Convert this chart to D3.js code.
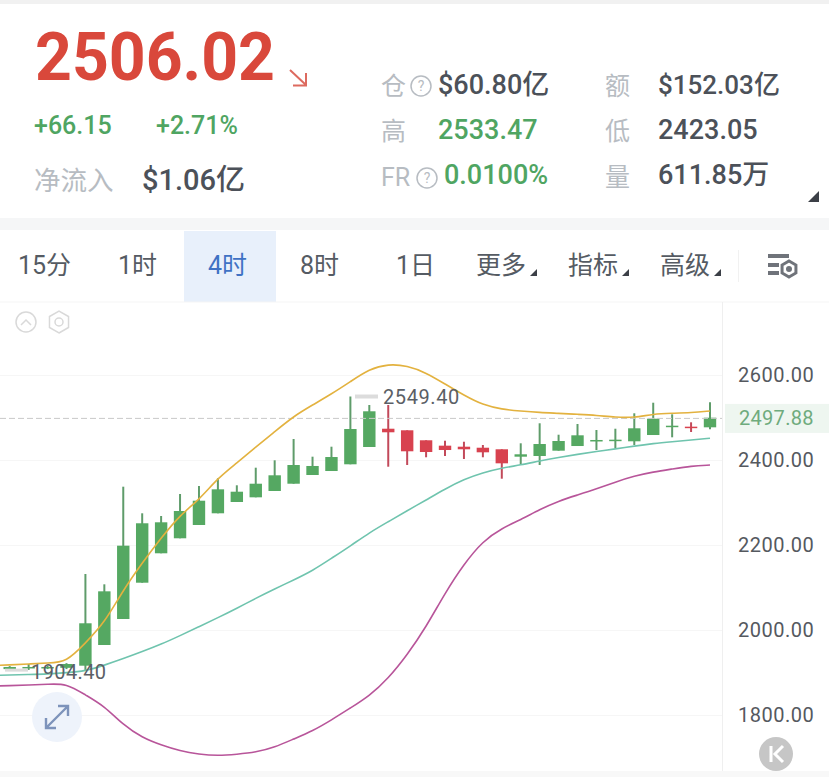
<!DOCTYPE html>
<html><head><meta charset="utf-8">
<script src="https://cdn.jsdelivr.net/npm/d3@7/dist/d3.min.js"></script>
<style>html,body{margin:0;padding:0;background:#fff;overflow:hidden}svg{display:block}
text{font-family:Roboto,"Noto Sans CJK SC",sans-serif}</style></head><body>
<svg id="c" width="829" height="777"></svg>
<script>
const opens=[1908,1911,1911,1911,1916,1964.7,2025.9,2111.3,2180.5,2215.8,2247.1,2274.6,2301.2,2312.2,2327.1,2344.2,2364.7,2374.1,2389.9,2430.6,2473.6,2469.9,2446.4,2433.7,2431.3,2428.9,2425.2,2407.8,2409.4,2421.9,2432.9,2444.7,2445.4,2444,2458.8,2477.6,2478.4,2476.9];
const closes=[1913,1913,1913,1920,2015.8,2091,2198.4,2251.1,2253.4,2280,2304.2,2331,2325.4,2344.2,2364,2388.2,2385.9,2407,2472.9,2514.6,2465.2,2420.5,2418.8,2423.5,2425.2,2418.1,2392.2,2413.4,2437.6,2444.7,2458.1,2447.1,2447.8,2474.6,2497.2,2480.7,2475.3,2499.5];
const highs=[1915,1920,1916,1922,2131.8,2107.5,2337.2,2274.6,2268.2,2320,2338.8,2357,2340.5,2381.9,2399.3,2449.4,2407.8,2431.3,2549.4,2529.4,2529.4,2469.9,2446.4,2445.4,2443,2435.3,2425.2,2439.3,2486.4,2459.5,2484.7,2470.6,2473.6,2509.9,2534.8,2507.5,2488.7,2535.8];
const lows=[1907,1906,1908,1908,1904.4,1964.7,2025.9,2111.3,2180.5,2215.8,2247.1,2274.6,2301.2,2312.2,2327.1,2344.2,2364.7,2374.1,2389.9,2430.6,2384.2,2388.2,2406.4,2409.4,2402.4,2406.4,2356,2388.2,2388.2,2421.9,2432.9,2423.5,2427.5,2435.3,2458.8,2453.4,2465.9,2472.2];
// bands start one period before the first visible candle
const upperBand=[1916.5,1917.7,1920,1922.4,1924,1969.4,2016.5,2094.1,2157.7,2216.5,2270.6,2305.9,2357.6,2392.9,2430.6,2466.6,2502.8,2529.4,2555.3,2584.2,2614.1,2625.9,2621.9,2605.4,2578.8,2552.2,2529.4,2519.3,2515.3,2511.8,2509.9,2507.5,2505.2,2500.5,2499.5,2508.2,2509.9,2511.3,2515.3];
const middleBand=[1893,1894.1,1895.3,1896.5,1899.5,1903.5,1917,1932.5,1949,1966.4,1986.6,2007.8,2029,2051.1,2074.6,2096.5,2117.7,2139.5,2168.7,2197.7,2229,2254.8,2280.7,2305.9,2331.8,2354.6,2370.1,2381.2,2388.2,2397.7,2405.9,2413.4,2420,2425.9,2432.9,2438.8,2443.1,2447.1,2451.1];
const lowerBand=[1868.2,1869,1870.6,1872.2,1874.6,1847.1,1821.2,1776.5,1746.6,1729.4,1715.3,1707.6,1704.3,1707.6,1712.2,1724,1743.5,1762.4,1788.2,1816.5,1844.7,1885.9,1941.2,2007.1,2087.1,2155.3,2209.4,2239.3,2259.5,2283.5,2303.5,2317.6,2331.8,2348.2,2362.4,2371.8,2378.8,2385.9,2388.2];
const priceTicks=[1800,2000,2200,2400,2600];
const lastPrice=2497.88, maxHigh=2549.40, minLow=1904.40;
const tabs=["15分","1时","4时","8时","1日","更多","指标","高级"];

const svg=d3.select("#c");
const x=d3.scaleLinear().domain([0,37]).range([9.7,710]);
const y=d3.scaleLinear().domain([1800,2600]).range([715,375]);
const GREEN="#54a862",RED="#d8434f",HEAD_GREEN="#4fa562",DARK="#4c5159",LIGHT="#b7bcc2";

// page chrome
const defs=svg.append("defs");
defs.append("filter").attr("id","b").append("feGaussianBlur").attr("stdDeviation",0.45);
defs.append("clipPath").attr("id","plot").append("rect").attr("x",0).attr("y",302).attr("width",722).attr("height",468);
svg.append("rect").attr("width",829).attr("height",4).attr("fill","#f1f1f1");
svg.append("rect").attr("y",218).attr("width",829).attr("height",12).attr("fill","#f5f6f7");
svg.append("rect").attr("x",184).attr("y",231).attr("width",92).attr("height",71).attr("fill","#e8f0fb");
svg.append("rect").attr("y",771).attr("width",829).attr("height",6).attr("fill","#f8f8f8");
svg.append("line").attr("x1",0).attr("x2",829).attr("y1",302).attr("y2",302).attr("stroke","#f5f5f5");
svg.append("line").attr("x1",722.5).attr("x2",722.5).attr("y1",302).attr("y2",771).attr("stroke","#efefef");

function T(s,px,py,size,color,weight,anchor){
  return svg.append("text").attr("x",px).attr("y",py).attr("font-size",size).attr("fill",color)
    .attr("font-weight",weight||400).attr("text-anchor",anchor||"start").text(s);
}
// header
T("2506.02",35,80,66,"#d9483b",700).attr("textLength",240).attr("lengthAdjust","spacingAndGlyphs");
svg.append("path").attr("d","M290 70L306 85M306 73V85.5H293").attr("fill","none").attr("stroke","#dd6a5f").attr("stroke-width",2);
T("+66.15",34,134,25,HEAD_GREEN,500);
T("+2.71%",156,134,25,HEAD_GREEN,500);
T("净流入",34,190,26.5,LIGHT,400);
T("$1.06亿",142,190,29,DARK,500);
T("仓",381,95,25,LIGHT);T("高",381,140,25,LIGHT);T("FR",381,186,25,LIGHT);
T("额",605,95,25,LIGHT);T("低",605,140,25,LIGHT);T("量",605,186,25,LIGHT);
T("$60.80亿",438,94,27,DARK,500);
T("2533.47",438,139,27,HEAD_GREEN,500);
T("0.0100%",444,184,27,HEAD_GREEN,500);
T("$152.03亿",658,94,26,DARK,500);
T("2423.05",658,139,27,DARK,500);
T("611.85万",658,184,27,DARK,500);
[[421,86],[427,178]].forEach(c=>{
  svg.append("circle").attr("cx",c[0]).attr("cy",c[1]).attr("r",10).attr("fill","none").attr("stroke",LIGHT).attr("stroke-width",1.5);
  T("?",c[0],c[1]+5,14,LIGHT,400,"middle");
});
const tri=(px,py,s)=>svg.append("path").attr("d",`M${px} ${py}L${px} ${py-s}L${px-s} ${py}Z`).attr("fill","#3c4047");
tri(819,202,11);

// tabs
const tabX=[18,118,208,300,396,476,568,660];
tabs.forEach((t,i)=>T(t,tabX[i],274,25,i===2?"#3f72c4":"#555b63",400));
tri(537,276,7);tri(629,276,7);tri(721,276,7);
svg.append("line").attr("x1",738.5).attr("x2",738.5).attr("y1",250).attr("y2",282).attr("stroke","#f1f1f1");
const gi=svg.append("g").attr("fill","#6f737a");
gi.append("rect").attr("x",768).attr("y",254).attr("width",21).attr("height",4);
gi.append("rect").attr("x",768).attr("y",263).attr("width",11).attr("height",4);
gi.append("rect").attr("x",768).attr("y",271).attr("width",11).attr("height",4);
const hex=(cx,cy,r)=>d3.range(6).map(k=>[cx+r*Math.sin(k*Math.PI/3),cy+r*Math.cos(k*Math.PI/3)].join(",")).join(" ");
svg.append("polygon").attr("points",hex(789,269,8)).attr("fill","none").attr("stroke","#6f737a").attr("stroke-width",3);
svg.append("circle").attr("cx",789).attr("cy",269).attr("r",3).attr("fill","#6f737a");

// chart tools
svg.append("circle").attr("cx",26).attr("cy",322).attr("r",10).attr("fill","none").attr("stroke","#d9d9d9").attr("stroke-width",1.5);
svg.append("path").attr("d","M21 325L26 320L31 325").attr("fill","none").attr("stroke","#d9d9d9").attr("stroke-width",1.5);
svg.append("polygon").attr("points",hex(59,322,11)).attr("fill","none").attr("stroke","#d9d9d9").attr("stroke-width",1.5);
svg.append("circle").attr("cx",59).attr("cy",322).attr("r",4).attr("fill","none").attr("stroke","#d9d9d9").attr("stroke-width",1.5);

// grid + axis
svg.append("g").selectAll("line").data(priceTicks).join("line")
  .attr("x1",0).attr("x2",722).attr("y1",d=>y(d)+.5).attr("y2",d=>y(d)+.5).attr("stroke","#f6f6f6");
const axis=d3.axisRight(y).tickValues(priceTicks).tickFormat(d=>d.toFixed(2)).tickSize(0).tickPadding(0);
const ag=svg.append("g").attr("transform","translate(738,0)").call(axis);
ag.select(".domain").remove();
ag.selectAll("text").attr("font-size",20).attr("fill","#55595f").attr("font-family",'Roboto,sans-serif').attr("letter-spacing",0.5);

// candles
const plot=svg.append("g").attr("clip-path","url(#plot)");
const candles=opens.map((o,i)=>({i,o,c:closes[i],h:highs[i],l:lows[i]}));
const cg=plot.append("g").attr("filter","url(#b)");
cg.selectAll(".w").data(candles).join("line").attr("class","w")
  .attr("x1",d=>x(d.i)).attr("x2",d=>x(d.i)).attr("y1",d=>y(d.h)).attr("y2",d=>y(d.l))
  .attr("stroke",d=>d.c>=d.o?"#5e9c6b":"#c24a5a").attr("stroke-width",2);
cg.selectAll(".b").data(candles).join("rect").attr("class","b")
  .attr("x",d=>x(d.i)-6.2).attr("width",12.4)
  .attr("y",d=>y(Math.max(d.o,d.c))).attr("height",d=>Math.max(1.5,Math.abs(y(d.o)-y(d.c))))
  .attr("fill",d=>d.c>=d.o?GREEN:RED);

// current price
plot.append("line").attr("x1",0).attr("x2",722).attr("y1",y(lastPrice)).attr("y2",y(lastPrice))
  .attr("stroke","#c9c9c9").attr("stroke-dasharray","6 3").attr("stroke-width",1);
svg.append("rect").attr("x",725).attr("y",y(lastPrice)-14.5).attr("width",104).attr("height",29).attr("fill","#eef6f0");
T(lastPrice.toFixed(2),739,y(lastPrice)+7,20,"#6fab7d",400).attr("letter-spacing",0.3);

// bands
const line=d3.line().x((d,i)=>x(i-1)).y(d=>y(d)).curve(d3.curveBasis);
[[middleBand,"#6fc4ae"],[lowerBand,"#b8559a"],[upperBand,"#e3b23f"]].forEach(s=>{
  plot.append("path").attr("d",line(s[0])).attr("fill","none").attr("stroke",s[1]).attr("stroke-width",1.6);
});

// extreme labels
svg.append("rect").attr("x",355).attr("y",y(maxHigh)-2).attr("width",23).attr("height",4).attr("fill","#dcdcdc");
T(maxHigh.toFixed(2),383,y(maxHigh)+7,20,"#5b5f66",400).attr("letter-spacing",0.6);
svg.append("rect").attr("x",5).attr("y",y(minLow)-2).attr("width",23).attr("height",3).attr("fill","#dcdcdc");
T(minLow.toFixed(2),31,679,20,"#5b5f66",400).attr("letter-spacing",0.4);

// buttons
svg.append("circle").attr("cx",57).attr("cy",717).attr("r",25).attr("fill","#eef3fb");
svg.append("path").attr("d","M47 727L67 707M58 706H68V716M46 718V728H56").attr("fill","none").attr("stroke","#7d93bb").attr("stroke-width",2.4);
svg.append("circle").attr("cx",776).attr("cy",754).attr("r",17).attr("fill","#c6c6c6");
svg.append("path").attr("d","M771 746V762M783 746L775 754L783 762").attr("fill","none").attr("stroke","#fff").attr("stroke-width",3);
</script></body></html>
